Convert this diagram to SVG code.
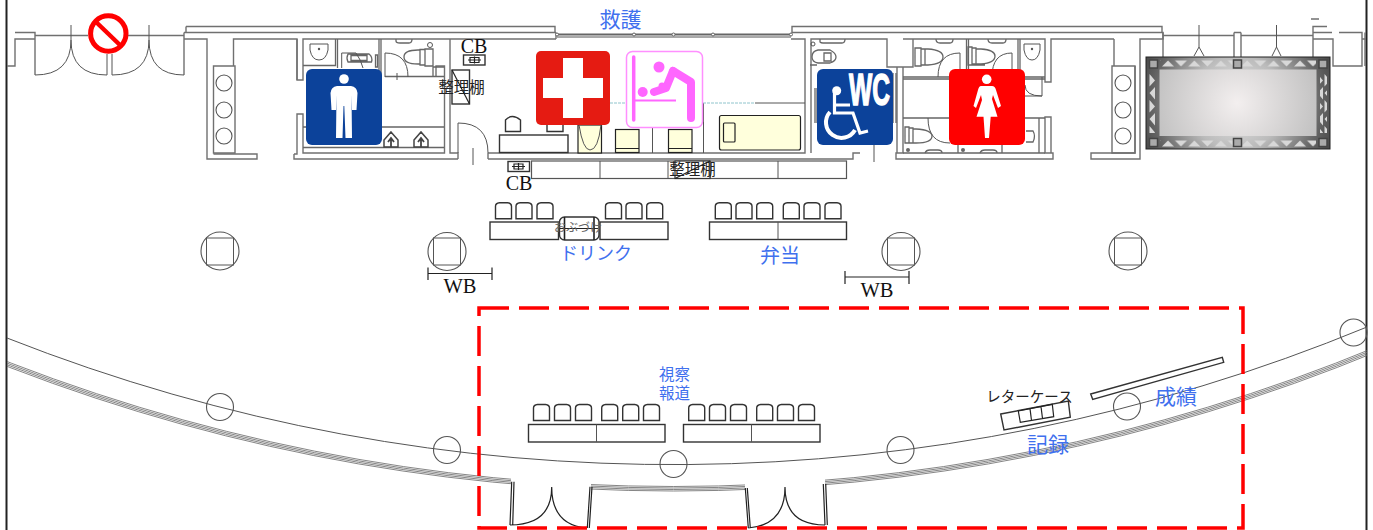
<svg xmlns="http://www.w3.org/2000/svg" width="1373" height="530" viewBox="0 0 1373 530">
<style>
.w{fill:none;stroke:#707070;stroke-width:1.400}
.t{fill:none;stroke:#555;stroke-width:1}
.g{fill:none;stroke:#666;stroke-width:1.300}
.k{fill:none;stroke:#222;stroke-width:1.200}
.f{fill:#fff;stroke:#333;stroke-width:1.400}
.y{fill:#ffffdc;stroke:#222;stroke-width:1.200}
.col{fill:none;stroke:#555;stroke-width:1.100}
.lab{font-family:"Liberation Sans","Noto Sans CJK JP",sans-serif;fill:#3f70ee;text-anchor:middle}
.blk{font-family:"Liberation Serif","Noto Sans CJK JP",serif;fill:#222;text-anchor:middle}
.ser{font-family:"Liberation Serif",serif;fill:#111;text-anchor:middle}
.wh{fill:#fff}
.ring{fill:none;stroke:#fff;stroke-width:4}
</style>
<defs>
<radialGradient id="sg" gradientUnits="userSpaceOnUse" cx="1237" cy="103" r="95">
<stop offset="0" stop-color="#f3efef"/><stop offset="1" stop-color="#bbb"/>
</radialGradient>
<radialGradient id="tg" gradientUnits="userSpaceOnUse" cx="1237" cy="103" r="105">
<stop offset="0" stop-color="#eee"/><stop offset=".45" stop-color="#bbb"/><stop offset=".8" stop-color="#666"/><stop offset="1" stop-color="#444"/>
</radialGradient>
<pattern id="th" patternUnits="userSpaceOnUse" x="1162" y="60" width="26.400" height="7">
<path d="M0,6.500 L6,0.500 L12,6.500Z M13,0.500 L25,0.500 L19,6.500Z" fill="#d8d8d8"/>
</pattern>
<pattern id="tb" patternUnits="userSpaceOnUse" x="1162" y="140" width="26.400" height="7">
<path d="M0,6.500 L6,0.500 L12,6.500Z M13,0.500 L25,0.500 L19,6.500Z" fill="#d8d8d8"/>
</pattern>
<pattern id="tv" patternUnits="userSpaceOnUse" x="1149" y="74" width="7" height="26">
<path d="M0.500,0 L6,6.500 L0.500,12.500Z M6,13 L0.500,19 L6,25.500Z" fill="#d8d8d8"/>
</pattern>
<g id="seat"><path d="M0,16 L0,3.500 Q0,0.500 4,0 L12,0 Q16,0.500 16,3.500 L16,16Z" class="f"/></g>
<clipPath id="wc"><rect x="7" y="320" width="504" height="210"/><rect x="591" y="320" width="154" height="210"/><rect x="825" y="320" width="542" height="210"/></clipPath>
</defs>
<rect width="1373" height="530" fill="#fff"/>

<g id="page-border">
<path d="M6.500,0V530M1366.500,0V530" fill="none" stroke="#222" stroke-width="2"/>
</g>

<g id="walls">
<path class="w" d="M7,66H15V39H35V75M15,32.500H35V39M35,35.500H88M128,35.500H184M184,75V32.500M186,26.500V32.500M186,26.500H555V32.500M184,32.500H556M184,32.500V39H207V159H257V154H213.500M233.500,66V39H297V80H303V39H556M556,32.500V39"/>
<path class="w" d="M294,154H297V114H303V153H444.500V66H436V77M294,154V159H458M297,80V39M444.500,66V153M450,39V153H458V159M488,153V159"/>
<path class="w" d="M488,153H805V39H791M488,159H853V153H860M811,153V39H887V67H897V153H896V159H1053V153H1045V117H1051V153M903,67V153H896M897,67H903M903,39H1045V82H1051V39H1114M913,39V67H903M1114,39V66M1135,66V153H1091V159H1140V39H1163V32.500H792V26.500H1162V32.500"/>
<path class="w" d="M1163,35.500H1234M1241,35.500H1313M1163,32.500V57M1234,32.500V57M1241,32.500V57M1234,32.500H1241M1313,32.500V57M1313,32.500V26.500H1327M1313,32.500H1332M1339,32.500H1362V66H1333V39H1313M1365,32.500V66M1311,19H1319M1362,39H1366"/>
<path class="t" d="M1199,25V47L1194,56M1199,47L1204,56M1276.500,25V47L1272,56M1276.500,47L1281,56"/>
<path class="w" d="M213.500,66H235V153H213.500Z"/>
<circle class="col" cx="224" cy="83" r="8"/><circle class="col" cx="224" cy="110" r="8"/><circle class="col" cx="224" cy="136" r="8"/>
<path class="w" d="M1112,66H1135V153H1112Z"/>
<circle class="col" cx="1123" cy="83" r="8"/><circle class="col" cx="1123" cy="110" r="8"/><circle class="col" cx="1123" cy="136" r="8"/>
<path d="M557,34.500H791" fill="none" stroke="#666" stroke-width="2.200"/>
<path class="t" d="M557,37H791"/>
<g fill="#fff" stroke="#666" stroke-width="1"><circle cx="557" cy="34.500" r="1.500"/><circle cx="634" cy="34.500" r="1.500"/><circle cx="673.500" cy="34.500" r="1.500"/><circle cx="713" cy="34.500" r="1.500"/><circle cx="791" cy="34.500" r="1.500"/></g>
</g>

<g id="entrance-doors">
<path class="t" d="M71,25V40Q71,75 35,75M71,40Q71,75 107,75V54M112,54V75Q149,75 149,40V25M149,40Q149,75 184,75"/>
</g>

<g id="mens-room">
<path class="g" d="M303,65.500H335.500V39M337.500,68V39M379,39V77M381,39V77M385,76.500H444M433,76.500V67H444M303,127H444M303,147.500H444"/>
<path class="t" d="M385,77V53Q408,53 408,77M397,73V80"/>
<path class="t" d="M310,44H328V50Q326,60 319,60Q312,60 310,50Z"/><circle cx="319" cy="49" r="1.200" fill="#555"/>
<path class="g" d="M348,54H369Q373,57 371.500,62H348Q346,58 348,54Z M351,55.500H367V60.500H351Z"/>
<path class="t" d="M341.700,53V68M341.700,53H356Q361,60 363,68"/>
<path class="g" d="M375.500,55H377.500V67H375.500Z"/>
<path class="g" d="M396,39V41Q396,43 400,43H409Q412,43 412,39" fill="#aaa"/>
<path class="g" d="M404,57Q404,50 418,50H420V64H418Q404,64 404,57ZM420,49.500H425V65H420ZM425,49H433V66H425Z"/><circle class="t" cx="430" cy="45" r="2.500"/>
<path d="M391,132L398,140V147H384V140Z M414,140L421,132L428,140V147H414Z" fill="none" stroke="#444" stroke-width="1.500"/>
<path d="M391,138V147M388,142L391,138L394,142M421,138V147M418,142L421,138L424,142" fill="none" stroke="#444" stroke-width="1.800"/>
</g>

<g id="medical-room">
<path class="t" d="M458,153V123Q488,123 488,153M473,148V165"/>
<rect class="f" x="499.500" y="135" width="68.500" height="17.500"/>
<path class="f" d="M505.500,131.500V120Q512,113 520.500,120V131.500Z"/>
<path class="f" d="M547,131.500V120H563V131.500Z"/>
<rect class="y" x="578" y="125" width="23.500" height="28"/>
<path class="t" d="M579,125Q583,150 590,150Q598,150 601,125"/>
<rect class="y" x="615.500" y="129.500" width="23.500" height="23"/>
<rect class="y" x="668.500" y="129.500" width="23.500" height="23"/>
<path class="k" d="M615.500,148.500H639M668.500,148.500H692"/>
<path class="t" d="M652.500,125V153M703.500,103V153"/>
<path d="M610,103H626M703,103H755" stroke="#8fc4cc" stroke-width="1" stroke-dasharray="3 1" fill="none"/>
<path class="t" d="M755,103H805"/>
<rect class="y" x="719.500" y="115.500" width="81" height="34.500" rx="2"/>
<rect class="y" x="723.500" y="123" width="11.500" height="19" rx="1"/>
</g>

<g id="wc-room">
<path class="g" d="M810,65H817M815,88V123M817,88V123M820,39V42Q821,43 823,43H842Q845,43 845,39M893,73V123M896,73V123"/>
<path class="g" d="M812,57Q812,51 818,50L830,50Q836,53 836,57Q836,61 830,63L818,63Q812,62 812,57ZM824,53H831V61H824Z"/>
<circle class="t" cx="813" cy="44" r="2"/>
<path class="t" d="M874,145V162"/>
</g>

<g id="womens-room">
<path class="g" d="M903,77H1045M903,79H1045M903,118H1045M966.500,39V77M968.500,39V77M1018,39V77M1020,39V77M958,118V153M1002,118V153M903,153H1045M1039,118V153M1024,118H1045"/>
<path class="t" d="M938,77Q938,53 960,53V77M992,77Q992,53 1012,53V77M928,118Q928,143 950,143M1025,85Q1025,96 1042,96V77M1025,96H1042M957,118V125"/>
<path class="g" d="M915,48H921V66H915ZM921,49H925V65H921ZM925,49H928Q943,50 943,57Q943,64 928,65H925Z"/>
<path class="g" d="M968,47H972V65H968ZM972,48H976V64H972ZM976,49H981Q995,50 995,56Q995,63 981,64H976ZM969,65H985"/>
<path class="g" d="M905,127H909V143H905ZM909,128H913V143H909ZM913,129H916Q932,130 932,136Q932,143 916,143H913Z"/>
<path class="g" d="M936,39Q936,43 940,43H950Q953,43 953,39M988,39Q988,43 992,43H1003Q1006,43 1006,39" fill="#aaa"/>
<path class="t" d="M1024,44H1040V50Q1038,60 1032,60Q1026,60 1024,50Z"/><circle cx="1032" cy="49" r="1.200" fill="#555"/>
<path class="g" d="M1026,131H1033Q1036,136 1033,142H1026"/>
<path class="g" d="M925,153Q926,150 930,150H938Q942,150 942,153M980,153Q981,150 985,150H993Q997,150 997,153"/>
<circle cx="908" cy="150" r="2" fill="#666"/><circle cx="963" cy="150" r="2" fill="#666"/>
</g>

<g id="stage">
<rect x="1146" y="57" width="184" height="92" fill="url(#tg)" stroke="#222" stroke-width="1"/>
<rect x="1160" y="60" width="156" height="7" fill="url(#th)"/>
<rect x="1160" y="140" width="156" height="7" fill="url(#tb)"/>
<rect x="1149" y="74" width="7" height="59" fill="url(#tv)"/>
<rect x="1320" y="74" width="7" height="59" fill="url(#tv)"/>
<rect x="1159.500" y="69.500" width="157" height="66.500" fill="url(#sg)"/>
<g fill="#aaa" stroke="#444" stroke-width="1.500"><rect x="1149.500" y="60" width="8" height="8"/><rect x="1319" y="60" width="8" height="8"/><rect x="1149.500" y="138.500" width="8" height="8"/><rect x="1319" y="138.500" width="8" height="8"/><rect x="1233.500" y="60" width="8" height="8"/><rect x="1233.500" y="138.500" width="8" height="8"/></g>
</g>

<g id="cb-top">
<rect x="463.500" y="55" width="21.500" height="10" class="f"/>
<path class="k" d="M468,60H481M474.500,56.500V63.500M470,57.500H479V62.500H470Z"/>
<text class="ser" x="474" y="53" font-size="20">CB</text>
</g>
<g id="shelf-left">
<rect x="452" y="70" width="17.500" height="34" class="f"/>
<path class="k" d="M452,70L469.500,104"/>
<text class="blk" x="461.500" y="92.500" font-size="15.500">整理棚</text>
</g>
<g id="cb-bottom">
<rect x="508" y="161.500" width="21.500" height="10" class="f"/>
<path class="k" d="M512,166.500H525M518.500,163V170M514,164H523V169H514Z"/>
<text class="ser" x="519" y="190" font-size="20">CB</text>
</g>
<g id="shelves">
<rect x="531.500" y="161" width="315" height="17.500" fill="#fff" stroke="#555" stroke-width="1.200"/>
<path class="t" d="M600,161V178.500M668,161V178.500M710,161V178.500M778,161V178.500"/>
<rect x="675" y="161" width="35" height="17.500" fill="#fff" stroke="#333" stroke-width="1.200"/>
<path class="k" d="M675,178.500L710,161"/>
<text class="blk" x="692.500" y="175" font-size="15.500">整理棚</text>
</g>

<g id="drink">
<use href="#seat" x="495.500" y="202.700"/><use href="#seat" x="516" y="202.700"/><use href="#seat" x="537" y="202.700"/>
<use href="#seat" x="605.500" y="202.700"/><use href="#seat" x="626" y="202.700"/><use href="#seat" x="646.700" y="202.700"/>
<rect class="f" x="490" y="222" width="68.500" height="17.500"/>
<rect class="f" x="600" y="222" width="68" height="17.500"/>
<rect x="559.500" y="217" width="39.500" height="23" rx="5" class="f"/>
<path d="M564.500,217V240M594,217V240" stroke="#222" stroke-width="1.600" fill="none"/>
<path class="k" d="M560,228.500H598"/>
<text x="578" y="232" font-family="Liberation Sans,Noto Sans CJK JP,sans-serif" font-size="12" fill="#666" text-anchor="middle">おぶづけ</text>
<text class="lab" x="596" y="260" font-size="18">ドリンク</text>
</g>
<g id="bento">
<use href="#seat" x="715.300" y="202.700"/><use href="#seat" x="736" y="202.700"/><use href="#seat" x="756.700" y="202.700"/>
<use href="#seat" x="783.300" y="202.700"/><use href="#seat" x="804" y="202.700"/><use href="#seat" x="825" y="202.700"/>
<rect class="f" x="709.500" y="222" width="137" height="17.500"/>
<path class="t" d="M778,222V239.500"/>
<text class="lab" x="780" y="263" font-size="20">弁当</text>
</g>

<g id="columns-upper">
<circle class="col" cx="220" cy="251" r="19"/><rect class="t" x="206.500" y="238" width="27" height="27"/>
<circle class="col" cx="447" cy="251.500" r="19"/><rect class="t" x="433.500" y="238" width="27" height="27"/>
<circle class="col" cx="901" cy="251.500" r="19"/><rect class="t" x="887.500" y="238" width="27" height="27"/>
<circle class="col" cx="1128" cy="251" r="19"/><rect class="t" x="1114.500" y="238" width="27" height="27"/>
</g>

<g id="wb-1"><path class="k" d="M428,267.500V280M428,273.500H492M492,267.500V280"/><text class="ser" x="460" y="293" font-size="20.500">WB</text></g>
<g id="wb-2"><path class="k" d="M845,271V284M845,277H909M909,271V284"/><text class="ser" x="877" y="297" font-size="20.500">WB</text></g>

<g id="press-seats">
<use href="#seat" x="533.500" y="404.500"/><use href="#seat" x="554.500" y="404.500"/><use href="#seat" x="575.500" y="404.500"/>
<use href="#seat" x="601.700" y="404.500"/><use href="#seat" x="622.700" y="404.500"/><use href="#seat" x="643.500" y="404.500"/>
<use href="#seat" x="688.700" y="404.500"/><use href="#seat" x="709.500" y="404.500"/><use href="#seat" x="730.500" y="404.500"/>
<use href="#seat" x="756.700" y="404.500"/><use href="#seat" x="777.500" y="404.500"/><use href="#seat" x="798.500" y="404.500"/>
<rect class="f" x="528.500" y="424.500" width="136.500" height="17.500"/><path class="t" d="M596.500,424.500V442"/>
<rect class="f" x="683.500" y="424.500" width="136.500" height="17.500"/><path class="t" d="M751.500,424.500V442"/>
<text class="lab" font-size="15.500"><tspan x="674.500" y="380">視察</tspan><tspan x="674.500" y="399">報道</tspan></text>
</g>

<g id="curved-wall">
<path class="t" d="M7,338A1817,1817 0 0 0 1367,327"/>
<g clip-path="url(#wc)" fill="none" stroke="#666" stroke-width=".8">
<circle cx="673.500" cy="-1353" r="1839.500"/><circle cx="673.500" cy="-1353" r="1841"/><circle cx="673.500" cy="-1353" r="1842.500"/><circle cx="673.500" cy="-1353" r="1844"/>
</g>
<circle class="col" cx="220" cy="407" r="13.500"/><circle class="col" cx="447" cy="450" r="13.500"/><circle class="col" cx="673.500" cy="464" r="13.500"/><circle class="col" cx="900.500" cy="450" r="13.500"/><circle class="col" cx="1127" cy="406.500" r="13.500"/><circle class="col" cx="1353.500" cy="332.500" r="13.500"/>
</g>

<g id="lower-doors">
<path class="k" d="M511.700,481.700L510,525M514,481.700L512.700,525M510,525Q551.700,525 551.700,487Q551.700,525 586.700,528M590,486.700L587.300,528M592,486.700L589.300,528"/>
<path class="k" d="M745.300,488L748.300,528M747.300,488L750.300,528M748.300,528Q785,525 785,487Q785,525 825,525M823.300,484L825,525M825.700,484L827.300,525"/>
</g>

<g id="letter-case">
<path class="f" d="M1000.700,414L1068.300,401L1070.300,417.300L1004,430Z"/>
<path class="k" d="M1018.300,411L1052.300,404.300L1053.700,416.700L1020.300,422.300ZM1030,408.700L1031.500,420.500M1041,406.500L1042.500,418.500"/>
<text x="1029.500" y="402" font-family="Liberation Sans,Noto Sans CJK JP,sans-serif" font-size="14.500" fill="#222" text-anchor="middle">レターケース</text>
</g>
<g id="results-table">
<path class="f" d="M1090.700,394L1222.300,357.300L1223.700,362.300L1092.700,399.300Z"/>
<text class="lab" x="1176" y="403.500" font-size="21">成績</text>
<text class="lab" x="1048" y="452" font-size="21">記録</text>
</g>

<g id="rescue-label"><text class="lab" x="620.500" y="27" font-size="21">救護</text></g>

<g id="sign-men">
<rect x="306" y="69" width="76" height="76" rx="6" fill="#0c429a"/>
<circle class="wh" cx="344" cy="79" r="4.800"/>
<path class="wh" d="M337,86L351,86Q357,87 357.500,93L356.500,110L352,110L351.500,95L352,138L345.500,138L344.300,106L343.500,106L342.500,138L336,138L336.500,95L336,110L331.500,110L330.500,93Q331,87 337,86Z"/>
</g>
<g id="sign-first-aid">
<rect x="536" y="51" width="74" height="74" rx="5" fill="#e51b12"/>
<path class="wh" d="M563,58H583V78H603V98H583V118H563V98H543V78H563Z"/>
</g>
<g id="sign-nursing">
<rect x="626.500" y="51.500" width="76" height="76" rx="6" fill="#fff" stroke="#ff8fff" stroke-width="1.500"/>
<g fill="#ff66ff"><circle cx="659" cy="67" r="5.500"/><circle cx="642.700" cy="92" r="5"/><circle cx="662" cy="86" r="3.500"/></g>
<path d="M633.700,57V120" stroke="#ff66ff" fill="none" stroke-width="3.500" stroke-linecap="round"/>
<path d="M634,100.500H676" stroke="#ff66ff" fill="none" stroke-width="2"/>
<path d="M673,71L691,82V118" stroke="#ff66ff" fill="none" stroke-width="8" stroke-linecap="round" stroke-linejoin="round"/>
<path d="M673,71L666,88L654,92" stroke="#ff66ff" fill="none" stroke-width="8" stroke-linecap="round" stroke-linejoin="round"/>
</g>
<g id="sign-wc">
<rect x="817" y="69" width="76" height="76" rx="6" fill="#0c429a"/>
<text x="849" y="105" font-family="Liberation Sans,sans-serif" font-weight="bold" font-size="44" fill="#fff" stroke="#fff" stroke-width="1.500" textLength="41" lengthAdjust="spacingAndGlyphs">WC</text>
<circle class="wh" cx="836.700" cy="90.700" r="4.500"/>
<path d="M834.500,92V113H853L860,133L868,131M834.500,105H850" fill="none" stroke="#fff" stroke-width="3.200"/>
<path class="ring" d="M830,112A15.500,15.500 0 1 0 855,130"/>
</g>
<g id="sign-women">
<rect x="949" y="69" width="76" height="76" rx="6" fill="#f00"/>
<circle class="wh" cx="986.700" cy="79.300" r="4.800"/>
<path class="wh" d="M981,86L992,86Q995,86 996,90L1001,106L998,108L993,95L992,99L997.500,116.700L990.700,116.700L989,138L985,138L983.500,116.700L976.500,116.700L982,100L981,95L976,108L973.500,106L978,90Q979,86 981,86Z"/>
</g>
<g id="sign-no-entry">
<circle cx="108.300" cy="33.500" r="17.700" fill="#fff" stroke="#f00" stroke-width="5"/>
<path d="M95,21L121,46" stroke="#f00" stroke-width="4.500"/>
</g>

<g id="restricted-area">
<rect x="479" y="308" width="764" height="220" fill="none" stroke="#f00" stroke-width="3.500" stroke-dasharray="30 10"/>
</g>
</svg>
